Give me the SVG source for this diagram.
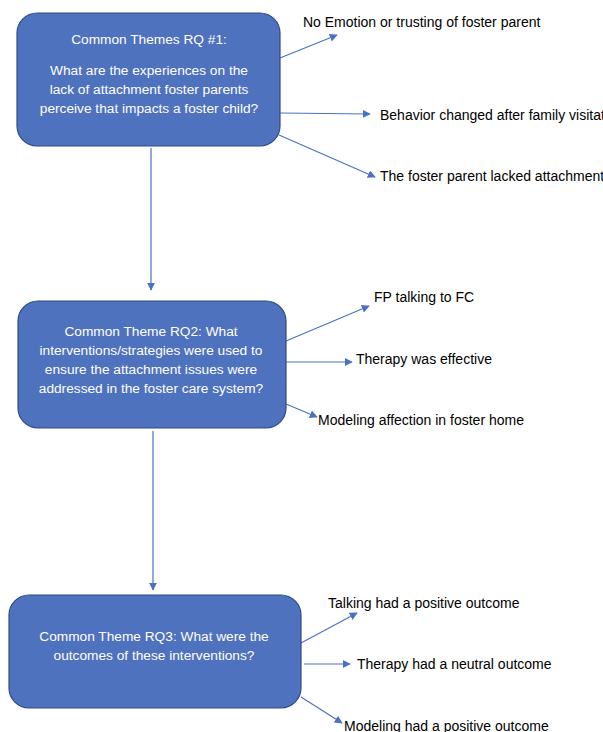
<svg xmlns="http://www.w3.org/2000/svg" width="603" height="732" viewBox="0 0 603 732">
<style>
.box{fill:#4F72BF;stroke:#2E4B86;stroke-width:1.2}
.bt{font-family:"Liberation Sans",Arial,sans-serif;font-size:13.7px;fill:#fff;text-anchor:middle}
.lb{font-family:"Liberation Sans",Arial,sans-serif;font-size:14px;fill:#000}
.c{stroke:#4A72C4;stroke-width:1.2;fill:none;marker-end:url(#ah)}
</style>
<defs>
<marker id="ah" viewBox="0 0 10 10" refX="9" refY="5" markerWidth="8" markerHeight="8" markerUnits="userSpaceOnUse" orient="auto">
<path d="M0,0 L10,5 L0,10 z" fill="#4A72C4"/>
</marker>
</defs>
<rect width="603" height="732" fill="#fff"/>
<g id="connectors">
<line class="c" x1="280" y1="58" x2="337" y2="35"/>
<line class="c" x1="280" y1="113" x2="370" y2="114"/>
<line class="c" x1="279" y1="135" x2="375" y2="177"/>
<line class="c" x1="151" y1="148" x2="151" y2="290"/>
<line class="c" x1="286" y1="341" x2="369" y2="306"/>
<line class="c" x1="286" y1="362" x2="352" y2="362"/>
<line class="c" x1="286" y1="404" x2="317" y2="417"/>
<line class="c" x1="153" y1="431" x2="153" y2="590"/>
<line class="c" x1="301" y1="643" x2="357" y2="613"/>
<line class="c" x1="304" y1="664" x2="350" y2="664"/>
<line class="c" x1="301" y1="697" x2="342" y2="723"/>
</g>
<g id="rq1">
<rect class="box" x="17" y="13" width="263" height="133" rx="20"/>
<text class="bt" x="149" y="44">Common Themes RQ #1:</text>
<text class="bt" x="149" y="75">What are the experiences on the</text>
<text class="bt" x="149" y="94">lack of attachment foster parents</text>
<text class="bt" x="149" y="113">perceive that impacts a foster child?</text>
</g>
<g id="t1a"><text class="lb" x="303" y="27">No Emotion or trusting of foster parent</text></g>
<g id="t1b"><text class="lb" x="380" y="120">Behavior changed after family visitat</text></g>
<g id="t1c"><text class="lb" x="380" y="181">The foster parent lacked attachment</text></g>
<g id="rq2">
<rect class="box" x="18" y="301" width="268" height="127" rx="20"/>
<text class="bt" x="151" y="336">Common Theme RQ2: What</text>
<text class="bt" x="151" y="355">interventions/strategies were used to</text>
<text class="bt" x="151" y="374">ensure the attachment issues were</text>
<text class="bt" x="151" y="393">addressed in the foster care system?</text>
</g>
<g id="t2a"><text class="lb" x="374" y="302">FP talking to FC</text></g>
<g id="t2b"><text class="lb" x="356" y="364">Therapy was effective</text></g>
<g id="t2c"><text class="lb" x="318" y="425">Modeling affection in foster home</text></g>
<g id="rq3">
<rect class="box" x="9" y="595" width="292" height="113" rx="20"/>
<text class="bt" x="154" y="641">Common Theme RQ3: What were the</text>
<text class="bt" x="154" y="660">outcomes of these interventions?</text>
</g>
<g id="t3a"><text class="lb" x="328" y="608">Talking had a positive outcome</text></g>
<g id="t3b"><text class="lb" x="357" y="669">Therapy had a neutral outcome</text></g>
<g id="t3c"><text class="lb" x="344" y="731">Modeling had a positive outcome</text></g>
</svg>
